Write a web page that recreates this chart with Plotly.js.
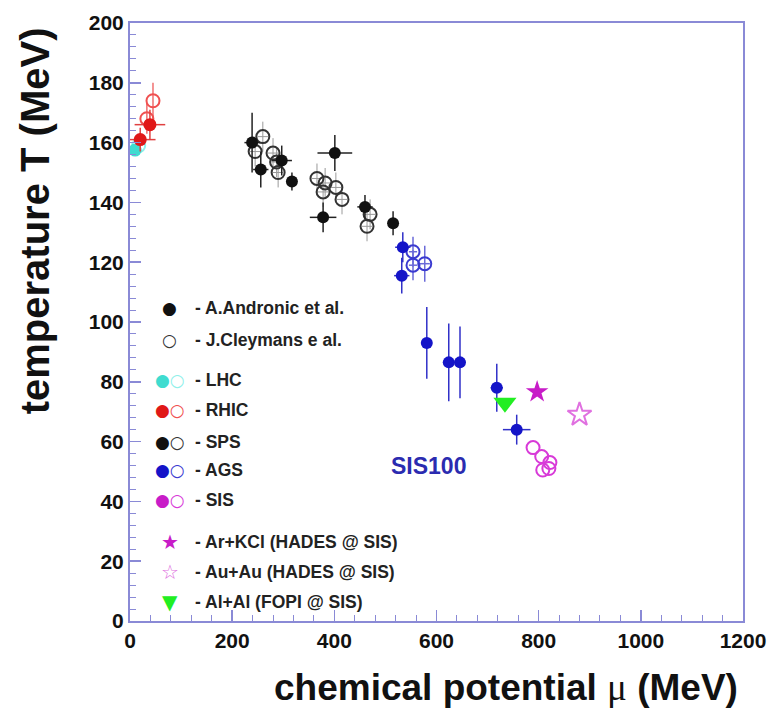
<!DOCTYPE html>
<html><head><meta charset="utf-8">
<script src="https://cdn.plot.ly/plotly-3.0.1.min.js"></script>
<style>html,body{margin:0;padding:0;background:#fff}#chart{width:780px;height:710px}</style>
</head><body><div id="chart"></div>
<script>
// A. Andronic et al. (SPS filled)
const andronicMu = [239, 256, 297, 317, 401, 378, 460, 515];
const andronicT = [160, 151, 154, 147, 156.5, 135, 138.5, 133];
const andronicMuErr = [15, 15, 20, 10, 34, 26, 15, 10];
const andronicTErr = [10, 6, 5, 3, 6, 5, 4, 4];
// J. Cleymans et al. (SPS open)
const cleymansMu = [260, 245, 280, 287, 290, 366, 382, 378, 403, 415, 470, 464];
const cleymansT = [162, 157, 156.5, 153.5, 150, 148, 146.5, 143.5, 145, 141, 136, 132];
const cleymansMuErr = [10, 10, 10, 10, 10, 10, 10, 10, 10, 10, 10, 10];
const cleymansTErr = [5, 5, 5, 5, 5, 5, 5, 5, 5, 5, 5, 5];
// LHC
const lhcFilledMu = [10];
const lhcFilledT = [157.5];
const lhcOpenMu = [17];
const lhcOpenT = [159];
// RHIC
const rhicFilledMu = [20, 39];
const rhicFilledT = [161, 166];
const rhicFilledMuErr = [30, 30];
const rhicFilledTErr = [4, 5];
const rhicOpenMu = [33, 45];
const rhicOpenT = [168, 174];
const rhicOpenTErr = [5, 6];
// AGS
const agsFilledMu = [534, 532, 581, 624, 646, 718, 757];
const agsFilledT = [125, 115.5, 93, 86.5, 86.5, 78, 64];
const agsFilledMuErr = [15, 15, 5, 5, 5, 12, 27];
const agsFilledTErr = [5, 6, 12, 13, 12, 8, 5];
const agsOpenMu = [554, 554, 577];
const agsOpenT = [123.5, 119, 119.5];
const agsOpenMuErr = [8, 8, 10];
const agsOpenTErr = [5, 5, 6];
// SIS
const sisOpenMu = [789, 806, 822, 808, 820];
const sisOpenT = [58, 55, 53, 50.5, 51];
// HADES / FOPI
const arKClMu = [797];
const arKClT = [76.6];
const auAuMu = [880];
const auAuT = [69];
const alAlMu = [734];
const alAlT = [73];

// legend entries (text labels)
const legendLabels = ['- A.Andronic et al.', '- J.Cleymans e al.', '- LHC', '- RHIC', '- SPS', '- AGS', '- SIS',
  '- Ar+KCl (HADES @ SIS)', '- Au+Au (HADES @ SIS)', '- Al+Al (FOPI @ SIS)'];

const C_LHC = '#3fdcd0', C_RHIC = '#e01818', C_SPS = '#111111', C_AGS = '#1414c8', C_SIS = '#d83ad8', C_GREEN = '#22ee22';

function eb(arr, color, w) { return arr ? {type: 'data', array: arr, visible: true, color: color, thickness: w || 1.5, width: 0} : {visible: false}; }

const traces = [
  {x: cleymansMu, y: cleymansT, mode: 'markers', type: 'scatter',
   error_x: eb(cleymansMuErr, '#9a9a9a', 1), error_y: eb(cleymansTErr, '#9a9a9a', 1),
   marker: {symbol: 'circle-open', size: 13, color: '#333', line: {width: 2, color: '#333'}}},
  {x: andronicMu, y: andronicT, mode: 'markers', type: 'scatter',
   error_x: eb(andronicMuErr, '#222', 1.5), error_y: eb(andronicTErr, '#222', 1.5),
   marker: {symbol: 'circle', size: 12, color: C_SPS}},
  {x: lhcOpenMu, y: lhcOpenT, mode: 'markers', type: 'scatter',
   marker: {symbol: 'circle-open', size: 13, color: '#8ff0ea', line: {width: 2, color: '#8ff0ea'}}},
  {x: lhcFilledMu, y: lhcFilledT, mode: 'markers', type: 'scatter',
   marker: {symbol: 'circle', size: 13, color: C_LHC}},
  {x: rhicOpenMu, y: rhicOpenT, mode: 'markers', type: 'scatter',
   error_y: eb(rhicOpenTErr, '#f07070', 1.5),
   marker: {symbol: 'circle-open', size: 13, color: '#f05050', line: {width: 2, color: '#f05050'}}},
  {x: rhicFilledMu, y: rhicFilledT, mode: 'markers', type: 'scatter',
   error_x: eb(rhicFilledMuErr, '#e04040', 1.5), error_y: eb(rhicFilledTErr, '#e04040', 1.5),
   marker: {symbol: 'circle', size: 13, color: C_RHIC}},
  {x: agsOpenMu, y: agsOpenT, mode: 'markers', type: 'scatter',
   error_x: eb(agsOpenMuErr, '#6a6ad8', 1.5), error_y: eb(agsOpenTErr, '#6a6ad8', 1.5),
   marker: {symbol: 'circle-open', size: 13, color: '#3a3ad0', line: {width: 2, color: '#3a3ad0'}}},
  {x: agsFilledMu, y: agsFilledT, mode: 'markers', type: 'scatter',
   error_x: eb(agsFilledMuErr, '#3030c8', 1.5), error_y: eb(agsFilledTErr, '#3030c8', 1.5),
   marker: {symbol: 'circle', size: 12, color: C_AGS}},
  {x: sisOpenMu, y: sisOpenT, mode: 'markers', type: 'scatter',
   marker: {symbol: 'circle-open', size: 13, color: C_SIS, line: {width: 2, color: C_SIS}}},
  {x: arKClMu, y: arKClT, mode: 'markers', type: 'scatter',
   marker: {symbol: 'star', size: 17, color: '#c81cc8'}},
  {x: auAuMu, y: auAuT, mode: 'markers', type: 'scatter',
   marker: {symbol: 'star-open', size: 18, color: '#e070e0', line: {width: 2, color: '#e070e0'}}},
  {x: alAlMu, y: alAlT, mode: 'markers', type: 'scatter',
   marker: {symbol: 'triangle-down', size: 20, color: C_GREEN}}
];

const legendY = [0.5234, 0.4699, 0.4030, 0.3528, 0.2993, 0.2525, 0.2023, 0.1321, 0.0819, 0.0318];
const legendSym = [
  '<span style="color:#111">●</span>',
  '<span style="color:#333">○</span>',
  '<span style="color:' + C_LHC + '">●</span><span style="color:#8ff0ea">○</span>',
  '<span style="color:' + C_RHIC + '">●</span><span style="color:#f05050">○</span>',
  '<span style="color:#111">●</span><span style="color:#333">○</span>',
  '<span style="color:' + C_AGS + '">●</span><span style="color:#3a3ad0">○</span>',
  '<span style="color:#c81cc8">●</span><span style="color:' + C_SIS + '">○</span>',
  '<span style="color:#c81cc8">★</span>',
  '<span style="color:#e070e0">☆</span>',
  '<span style="color:' + C_GREEN + '">▼</span>'
];

const annotations = [];
legendLabels.forEach((lab, i) => {
  annotations.push({xref: 'paper', yref: 'paper', x: 0.1028, y: legendY[i], xanchor: 'left', yanchor: 'middle',
    text: lab, showarrow: false, font: {family: 'Liberation Sans, Arial', size: 17.5, weight: 'bold', color: '#222'}});
  annotations.push({xref: 'paper', yref: 'paper', x: 0.065, y: legendY[i], xanchor: 'center', yanchor: 'middle',
    text: legendSym[i], showarrow: false, font: {family: 'DejaVu Sans', size: i >= 7 ? 20 : 17, color: '#111'}});
});
annotations.push({x: 585, y: 52, xref: 'x', yref: 'y', text: 'SIS100', showarrow: false,
  font: {family: 'Liberation Sans, Arial', size: 23, weight: 'bold', color: '#2b2bb0'}});
annotations.push({xref: 'paper', yref: 'paper', x: 0.995, y: -0.112, xanchor: 'right', yanchor: 'middle',
  text: 'chemical potential <span style="font-family:Liberation Serif;font-weight:normal">μ</span> (MeV)', showarrow: false,
  font: {family: 'Liberation Sans, Arial', size: 37, weight: 'bold', color: '#111'}});
annotations.push({xref: 'paper', yref: 'paper', x: -0.155, y: 0.997, xanchor: 'center', yanchor: 'top', textangle: -90,
  text: 'temperature T (MeV)', showarrow: false,
  font: {family: 'Liberation Sans, Arial', size: 40, weight: 'bold', color: '#111'}});

const axisCommon = {
  showgrid: false, zeroline: false, showline: true, mirror: true,
  linecolor: '#8a8ad6', linewidth: 2, ticks: 'inside', ticklen: 11, tickwidth: 1.5, tickcolor: '#8a8ad6',
  tickfont: {family: 'Liberation Sans, Arial', size: 21, weight: 'bold', color: '#111'}
};

const layout = {
  width: 780, height: 710,
  margin: {l: 130, r: 37, t: 23, b: 89},
  paper_bgcolor: '#fff', plot_bgcolor: '#fff',
  showlegend: false,
  xaxis: Object.assign({}, axisCommon, {range: [0, 1200], tick0: 0, dtick: 200,
    minor: {dtick: 40, ticks: 'inside', ticklen: 6, tickcolor: '#8a8ad6', tickwidth: 1}}),
  yaxis: Object.assign({}, axisCommon, {range: [0, 200], tick0: 0, dtick: 20,
    minor: {dtick: 4, ticks: 'inside', ticklen: 6, tickcolor: '#8a8ad6', tickwidth: 1}}),
  annotations: annotations
};

Plotly.newPlot('chart', traces, layout, {displayModeBar: false, staticPlot: true});
</script>
</body></html>
